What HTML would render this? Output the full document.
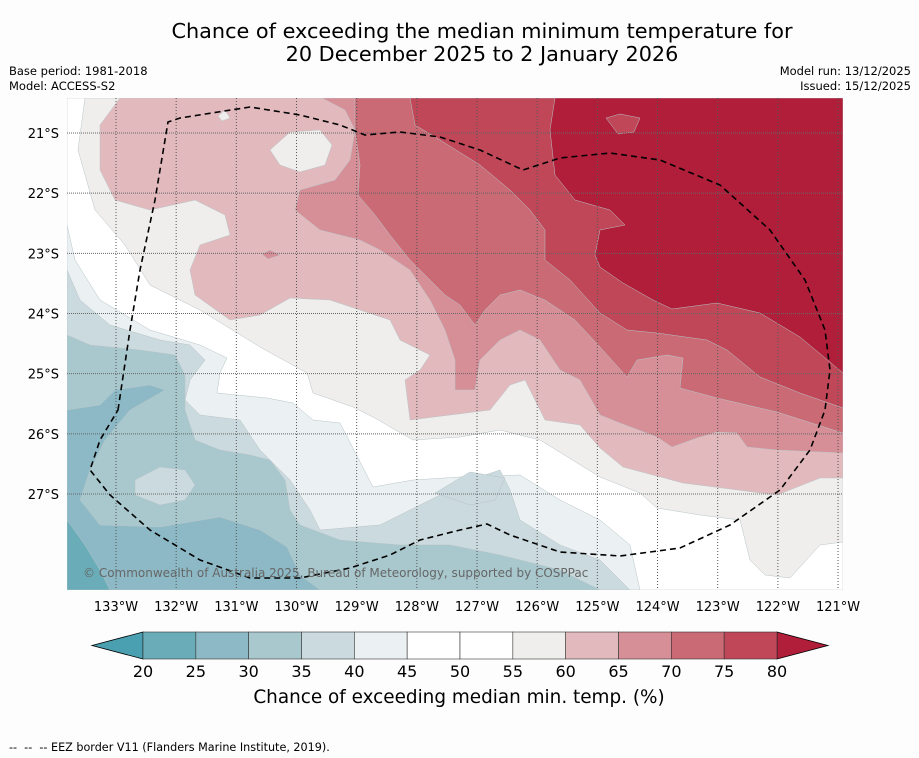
<!DOCTYPE html>
<html><head><meta charset="utf-8"><style>
body{margin:0;background:#fdfdfd;font-family:"Liberation Sans","DejaVu Sans",sans-serif;}
svg{display:block}
</style></head><body>
<svg id="chart" width="919" height="758" viewBox="0 0 919 758" xmlns="http://www.w3.org/2000/svg">
<rect x="0" y="0" width="919" height="758" fill="#fdfdfd"/>
<text x="482" y="38" font-size="20.8" text-anchor="middle" fill="#000" font-family="DejaVu Sans, sans-serif">Chance of exceeding the median minimum temperature for</text>
<text x="482" y="61" font-size="20.8" text-anchor="middle" fill="#000" font-family="DejaVu Sans, sans-serif">20 December 2025 to 2 January 2026</text>
<text x="9" y="75" font-size="11.5" font-family="DejaVu Sans, sans-serif">Base period: 1981-2018</text>
<text x="9" y="90" font-size="11.5" font-family="DejaVu Sans, sans-serif">Model: ACCESS-S2</text>
<text x="911" y="75" font-size="11.5" text-anchor="end" font-family="DejaVu Sans, sans-serif">Model run: 13/12/2025</text>
<text x="911" y="90" font-size="11.5" text-anchor="end" font-family="DejaVu Sans, sans-serif">Issued: 15/12/2025</text>
<defs><clipPath id="mapclip"><rect x="67" y="98" width="776" height="492"/></clipPath></defs>
<g id="map" clip-path="url(#mapclip)"></g>
<g id="axes"></g>
<g id="cbar"></g>
<text x="459" y="703" font-size="18.4" text-anchor="middle" font-family="DejaVu Sans, sans-serif">Chance of exceeding median min. temp. (%)</text>
<text x="9" y="751" font-size="11.2" font-family="DejaVu Sans, sans-serif" style="white-space:pre" xml:space="preserve">--  --  -- EEZ border V11 (Flanders Marine Institute, 2019).</text>
</svg>
<script>
const levels=[20,25,30,35,40,45,50,55,60,65,70,75,80];
const bandColors=["#6aadb9","#8cb9c5","#a8c8ce","#cbdade","#ebf0f2","#ffffff","#ffffff","#efeeec","#e2b9bd","#d68f97","#c96a75","#bf4757"];
const underColor="#4aa0b0", overColor="#b01e3a";
const lonTicks=[133,132,131,130,129,128,127,126,125,124,123,122,121];
const latTicks=[21,22,23,24,25,26,27];
const NS="http://www.w3.org/2000/svg";
function lonX(l){return 116+(133-l)*60.17;}
function latY(l){return 133+(l-21)*60.17;}
function mk(tag,attrs,parent){const e=document.createElementNS(NS,tag);for(const k in attrs)e.setAttribute(k,attrs[k]);parent.appendChild(e);return e;}
const map=document.getElementById('map');
const shapes=[
["#ffffff","M67 98H843V590H67Z","band-45-55"],
["#efeeec","M85 98L78 150L95 210L125 245L150 285L200 310L260 347L307 373L313 393L353 407L373 417L413 440L460 437L500 430L540 440L600 477L640 493L657 508L700 515L740 520L750 560L765 575L790 578L820 545L843 542V98Z","band-55-60"],
["#e2b9bd","M120 98L100 125L100 170L115 200L150 210L195 200L225 215L230 235L200 245L190 270L195 295L230 320L260 315L290 298L330 300L360 310L390 320L400 340L430 355L420 370L405 380L410 420L450 415L490 410L510 385L525 380L545 420L580 425L600 448L623 467L683 483L777 495L820 478L843 478V98Z","band-60-65"],
["#efeeec","M270 150L290 132L320 130L332 145L325 165L300 172L280 165Z M218 116L225 110L230 118L222 121Z","hole-55-60"],
["#d68f97","M322 98L345 110L355 130L350 160L335 180L300 190L295 210L320 230L360 240L380 250L410 270L430 300L445 330L455 360L455 390L475 390L480 360L500 340L520 330L540 340L560 370L580 380L600 415L620 423L657 437L672 447L697 438L717 432L737 433L747 447L777 450L843 453V98Z M262 254L270 250L280 255L268 259Z","band-65-70"],
["#c96a75","M355 98L355 130L360 165L358 195L375 215L390 235L410 260L430 280L445 295L460 305L475 325L485 310L500 295L520 290L545 300L575 320L600 347L627 377L637 360L667 355L683 358L680 388L717 398L777 412L843 433V98Z","band-70-75"],
["#bf4757","M410 98L415 125L440 140L480 165L510 190L530 210L545 230L545 260L570 280L600 313L627 330L657 333L707 340L727 350L760 377L800 393L843 408V98Z","band-75-80"],
["#b01e3a","M555 98L550 130L555 175L575 200L610 210L625 225L600 230L595 255L600 267L623 283L653 300L672 309L717 303L760 313L800 337L843 373V98Z","band-over-80"],
["#bf4757","M606 118L620 114L640 118L634 132L618 134Z","blob-75-80"],
["#ebf0f2","M67 225L75 260L100 300L150 330L200 345L227 358L220 373L217 393L267 398L293 403L313 420L340 423L373 487L413 480L460 477L520 475L560 500L600 520L630 545L640 590L67 590Z","band-40-45"],
["#cbdade","M67 270L80 300L110 325L160 340L190 345L205 360L190 380L185 400L200 415L240 420L260 450L290 480L310 510L320 530L380 525L430 500L470 480L500 470L510 490L520 520L560 545L600 560L630 590L67 590Z","band-35-40"],
["#cbdade","M435 493L470 472L505 478L495 500L470 505Z","blob-35-40"],
["#a8c8ce","M67 335L90 345L140 350L175 355L185 375L185 410L195 440L220 450L250 455L270 460L285 480L290 510L300 525L340 540L400 545L450 545L500 555L560 570L600 590L67 590Z","band-30-35"],
["#cbdade","M135 480L160 467L185 470L195 485L185 500L160 505L135 495Z","hole-35-40"],
["#8cb9c5","M67 410L100 405L115 390L150 385L165 390L130 410L105 440L90 470L80 500L100 525L160 527L220 517L260 530L287 547L300 575L320 590L67 590Z","band-25-30"],
["#6aadb9","M67 520L85 545L100 570L110 590L67 590Z","band-20-25"]
];
shapes.forEach(s=>{const p=mk('path',{d:s[1],fill:s[0],stroke:"#b8c4c8","stroke-width":"0.5"},map);

});
lonTicks.forEach(l=>{const ln=mk('line',{x1:lonX(l),x2:lonX(l),y1:98,y2:590,stroke:"#555","stroke-width":"1","stroke-dasharray":"1,2"},map);

});
latTicks.forEach(l=>{const ln=mk('line',{x1:67,x2:843,y1:latY(l),y2:latY(l),stroke:"#666","stroke-width":"1","stroke-dasharray":"1,1"},map);

});
const eez=mk('path',{d:"M118 410L130 330L140 270L155 200L168 122L180 118L250 107L300 115L340 125L365 135L400 132L440 137L480 150L523 170L560 158L610 153L660 160L720 185L770 230L805 280L825 330L830 370L825 410L810 450L780 490L730 525L680 548L620 556L560 552L510 535L487 524L460 530L420 540L390 555L350 568L300 578L250 578L200 560L150 530L110 495L90 470L100 440Z",fill:"none",stroke:"#000","stroke-width":"1.6","stroke-dasharray":"6,4"},map);


const cp=mk('text',{x:83,y:577,"font-size":12,fill:"#666","font-family":"DejaVu Sans, sans-serif"},map);
cp.textContent="© Commonwealth of Australia 2025, Bureau of Meteorology, supported by COSPPac";


const ax=document.getElementById('axes');
lonTicks.forEach(l=>{const t=mk('text',{x:lonX(l),y:611,"font-size":13,"text-anchor":"middle","font-family":"DejaVu Sans, sans-serif"},ax);
t.textContent=l+"°W";

});
latTicks.forEach(l=>{const t=mk('text',{x:59,y:latY(l)+5,"font-size":13,"text-anchor":"end","font-family":"DejaVu Sans, sans-serif"},ax);
t.textContent=l+"°S";

});
const cb=document.getElementById('cbar');
const cx0=143,cx1=777,cy0=632,cy1=659;
function cbX(v){return cx0+(v-levels[0])/(levels[levels.length-1]-levels[0])*(cx1-cx0);}
const tl=mk('path',{d:`M${cx0} ${cy0}L92 ${(cy0+cy1)/2}L${cx0} ${cy1}Z`,fill:underColor,stroke:"#000","stroke-width":"0.8"},cb);


const tr=mk('path',{d:`M${cx1} ${cy0}L828 ${(cy0+cy1)/2}L${cx1} ${cy1}Z`,fill:overColor,stroke:"#000","stroke-width":"0.8"},cb);


bandColors.forEach((c,i)=>{const r=mk('rect',{x:cbX(levels[i]),y:cy0,width:cbX(levels[i+1])-cbX(levels[i]),height:cy1-cy0,fill:c,stroke:"#333","stroke-width":"0.6"},cb);

});
levels.forEach(v=>{const t=mk('text',{x:cbX(v),y:677,"font-size":16,"text-anchor":"middle","font-family":"DejaVu Sans, sans-serif"},cb);
t.textContent=v;

});
</script>
</body></html>
